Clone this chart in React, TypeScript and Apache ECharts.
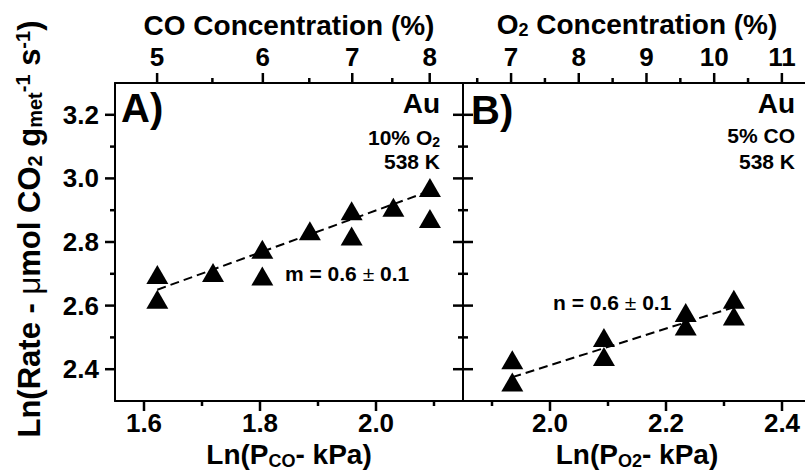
import React, { useEffect, useRef } from "react";
import * as echarts from "echarts";

// ---------- data ----------
const P_ATM = 101.325; // kPa, converts % to partial pressure
const coConcTicks = [5, 6, 7, 8];
const coConcMinor = [5.5, 6.5, 7.5];
const o2ConcTicks = [7, 8, 9, 10, 11];
const o2ConcMinor = [6.5, 7.5, 8.5, 9.5, 10.5];
const lnPcoTicks = [1.6, 1.8, 2.0];
const lnPcoMinor = [1.7, 1.9, 2.1];
const lnPo2Ticks = [2.0, 2.2, 2.4];
const lnPo2Minor = [1.9, 2.1, 2.3];
const rateTicks = [2.4, 2.6, 2.8, 3.0, 3.2];
const rateMinor = [2.5, 2.7, 2.9, 3.1];

const lnPcoA = [1.623, 1.623, 1.719, 1.804, 1.804, 1.886, 1.958, 1.958, 2.03, 2.093, 2.093];
const lnRateA = [2.698, 2.62, 2.704, 2.777, 2.693, 2.835, 2.898, 2.819, 2.909, 2.971, 2.874];
const fitAx = [1.623, 2.092];
const fitAy = [2.65, 2.96];

const lnPo2B = [1.935, 1.935, 2.093, 2.093, 2.234, 2.234, 2.317, 2.317];
const lnRateB = [2.43, 2.36, 2.5, 2.44, 2.578, 2.536, 2.62, 2.567];
const fitBx = [1.935, 2.317];
const fitBy = [2.375, 2.595];

// ---------- styles ----------
const FONT = "'Liberation Sans', Arial, Helvetica, sans-serif";
const BLACK = "#000";
const lnOfPct = (c: number) => Math.log((c * P_ATM) / 100);

const lineStyle = { color: BLACK, width: 2 };

function axis(base: any, labelValues: number[] | null, formatter?: (v: number) => string, margin = 10) {
  return {
    type: "value",
    ...base,
    axisLine: { show: true, onZero: false, lineStyle },
    axisTick: { show: false },
    axisLabel: labelValues
      ? {
          show: true,
          customValues: labelValues,
          formatter,
          margin,
          color: BLACK,
          fontSize: 26,
          fontWeight: "bold",
          fontFamily: FONT,
        }
      : { show: false },
    splitLine: { show: false },
    minorTick: { show: false },
  };
}

const GRID_TOP = 83;
const GRID_H = 318;
const GRID_W = 348;
const MAJ = 10;
const MIN = 5;
const TW = 2.5;

// tick marks as small rectangles placed through the axes' own scales
function tickMarks(
  xAxisIndex: number,
  yAxisIndex: number,
  vals: number[],
  fixed: number,
  side: "bottom" | "top" | "left" | "right",
  len: number
) {
  const vertical = side === "left" || side === "right";
  const size = vertical ? [len, TW] : [TW, len];
  const off =
    side === "bottom" ? [0, len / 2] : side === "top" ? [0, -len / 2] : side === "left" ? [-len / 2, 0] : [len / 2, 0];
  return {
    type: "scatter",
    xAxisIndex,
    yAxisIndex,
    clip: false,
    silent: true,
    z: 5,
    symbol: "rect",
    symbolSize: size,
    symbolOffset: off,
    itemStyle: { color: BLACK, opacity: 1 },
    data: vals.map((v) => (vertical ? [fixed, v] : [v, fixed])),
  };
}

export default function App() {
  const ref = useRef<HTMLDivElement>(null);
  useEffect(() => {
    if (!ref.current) return;
    const chart = echarts.init(ref.current, null, { renderer: "svg" });
    const A = { min: 1.55, max: 2.15 };
    const Btm = { min: 1.85, max: 2.45 };
    const Btop = { min: 6.29, max: 11.43 };
    const Y = { min: 2.3, max: 3.3 };
    const f1 = (v: number) => Number(v).toFixed(1);
    const titleStyle = {
      color: BLACK,
      fontSize: 28,
      fontWeight: "bold",
      fontFamily: FONT,
      rich: {
        m: { fontSize: 28, fontWeight: "bold", fontFamily: FONT, color: BLACK, lineHeight: 30 },
        s: { fontSize: 18, fontWeight: "bold", fontFamily: FONT, color: BLACK, lineHeight: 14, verticalAlign: "bottom" },
      },
    };

    const xAxes = [
      axis({ gridIndex: 0, position: "bottom", ...A, name: "{m|Ln(P}{s|CO}{m|- kPa)}", nameLocation: "middle", nameGap: 32, nameTextStyle: titleStyle }, lnPcoTicks, f1, 9),
      axis({ gridIndex: 0, position: "top", ...A, name: "{m|CO Concentration (%)}", nameLocation: "middle", nameGap: 26, nameTextStyle: titleStyle }, coConcTicks.map(lnOfPct), (v: number) => String(Math.round((Math.exp(v) * 100) / P_ATM)), 13),
      axis({ gridIndex: 1, position: "bottom", ...Btm, name: "{m|Ln(P}{s|O2}{m|- kPa)}", nameLocation: "middle", nameGap: 32, nameTextStyle: titleStyle }, lnPo2Ticks, f1, 9),
      axis({ gridIndex: 1, position: "top", ...Btop, name: "{m|O}{s|2}{m| Concentration (%)}", nameLocation: "middle", nameGap: 26, nameTextStyle: titleStyle }, o2ConcTicks, (v: number) => String(Math.round(v)), 13),
    ];

    const yAxes = [
      axis({ gridIndex: 0, position: "left", ...Y }, rateTicks, f1, 16),
      axis({ gridIndex: 0, position: "right", ...Y }, null),
      axis({ gridIndex: 1, position: "left", ...Y }, null),
    ];

    const txt = (text: string, x: number, y: number, size: number, align: string, rich?: any) => ({
      type: "text",
      x,
      y,
      silent: true,
      z: 10,
      style: { text, fill: BLACK, font: `bold ${size}px ${FONT}`, textAlign: align, textVerticalAlign: "middle", rich },
    });

    const annRich = {
      m: { fontSize: 21, fontWeight: "bold", fontFamily: FONT, fill: BLACK, lineHeight: 24 },
      s: { fontSize: 14, fontWeight: "bold", fontFamily: FONT, fill: BLACK, lineHeight: 12, verticalAlign: "bottom" },
      pm: { fontSize: 21, fontWeight: "normal", fontFamily: FONT, fill: BLACK, lineHeight: 24 },
    };

    const yRich = {
      m: { fontSize: 31, fontWeight: "bold", fontFamily: FONT, fill: BLACK, lineHeight: 32 },
      mu: { fontSize: 31, fontWeight: "normal", fontFamily: FONT, fill: BLACK, lineHeight: 32 },
      s: { fontSize: 20, fontWeight: "bold", fontFamily: FONT, fill: BLACK, lineHeight: 15, verticalAlign: "bottom" },
      t: { fontSize: 20, fontWeight: "bold", fontFamily: FONT, fill: BLACK, lineHeight: 15, verticalAlign: "top" },
    };

    const graphic: any[] = [
      txt("A)", 121, 108, 40, "left"),
      txt("Au", 440, 103, 28, "right"),
      txt("{m|10% O}{s|2}", 440, 137, 21, "right", annRich),
      txt("538 K", 440, 161, 21, "right"),
      txt("{m|m = 0.6 }{pm|±}{m| 0.1}", 285, 273, 21, "left", annRich),
      txt("B)", 471, 110, 40, "left"),
      txt("Au", 795, 103, 28, "right"),
      txt("5% CO", 795, 135, 21, "right"),
      txt("538 K", 795, 161, 21, "right"),
      txt("{m|n = 0.6 }{pm|±}{m| 0.1}", 553, 302, 21, "left", annRich),
      {
        type: "text",
        x: 29,
        y: 229,
        rotation: Math.PI / 2,
        silent: true,
        style: {
          text: "{m|Ln(Rate - }{mu|μ}{m|mol CO}{s|2}{m| g}{s|met}{t|-1}{m| s}{t|-1}{m|)}",
          fill: BLACK,
          font: `bold 31px ${FONT}`,
          textAlign: "center",
          textVerticalAlign: "middle",
          rich: yRich,
        },
      },
    ];

    const tri = { symbol: "triangle", symbolSize: [22, 19], itemStyle: { color: BLACK, opacity: 1 } };
    const dash = { color: BLACK, width: 2, type: [9, 5] };

    chart.setOption({
      animation: false,
      backgroundColor: "#fff",
      grid: [
        { left: 115, top: GRID_TOP, width: GRID_W, height: GRID_H, outerBoundsMode: "none", containLabel: false },
        { left: 463, top: GRID_TOP, width: GRID_W, height: GRID_H, outerBoundsMode: "none", containLabel: false },
      ],
      xAxis: xAxes,
      yAxis: yAxes,
      series: [
        { type: "line", xAxisIndex: 0, yAxisIndex: 0, data: fitAx.map((x, i) => [x, fitAy[i]]), showSymbol: false, symbol: "none", lineStyle: dash, z: 2 },
        { type: "scatter", xAxisIndex: 0, yAxisIndex: 0, data: lnPcoA.map((x, i) => [x, lnRateA[i]]), ...tri, z: 3 },
        { type: "line", xAxisIndex: 2, yAxisIndex: 2, data: fitBx.map((x, i) => [x, fitBy[i]]), showSymbol: false, symbol: "none", lineStyle: dash, z: 2 },
        { type: "scatter", xAxisIndex: 2, yAxisIndex: 2, data: lnPo2B.map((x, i) => [x, lnRateB[i]]), ...tri, z: 3 },
        // panel A ticks
        tickMarks(0, 0, lnPcoTicks, Y.min, "bottom", MAJ),
        tickMarks(0, 0, lnPcoMinor, Y.min, "bottom", MIN),
        tickMarks(1, 0, coConcTicks.map(lnOfPct), Y.max, "top", MAJ),
        tickMarks(1, 0, coConcMinor.map(lnOfPct), Y.max, "top", MIN),
        tickMarks(0, 0, rateTicks, A.min, "left", MAJ),
        tickMarks(0, 0, rateMinor, A.min, "left", MIN),
        tickMarks(0, 0, rateTicks, A.max, "right", MAJ),
        tickMarks(0, 0, rateMinor, A.max, "right", MIN),
        // panel B ticks
        tickMarks(2, 2, lnPo2Ticks, Y.min, "bottom", MAJ),
        tickMarks(2, 2, lnPo2Minor, Y.min, "bottom", MIN),
        tickMarks(3, 2, o2ConcTicks, Y.max, "top", MAJ),
        tickMarks(3, 2, o2ConcMinor, Y.max, "top", MIN),
        tickMarks(2, 2, rateTicks, Btm.min, "left", MAJ),
        tickMarks(2, 2, rateMinor, Btm.min, "left", MIN),
      ],
      graphic,
    });
    return () => chart.dispose();
  }, []);
  return (
    <div
      ref={ref}
      style={{ position: "fixed", left: 0, top: 0, width: 805, height: 470, background: "#fff" }}
    />
  );
}
